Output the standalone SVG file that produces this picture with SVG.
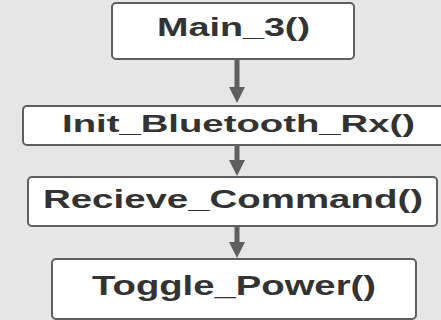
<svg xmlns="http://www.w3.org/2000/svg" width="441" height="320" viewBox="0 0 441 320">
<style>
.bx{fill:#ffffff;stroke:#5f5f5f;stroke-width:2}
.t{font-family:"Liberation Sans",Arial,sans-serif;font-weight:bold;fill:#333333}
.ln{stroke:#5f5f5f;stroke-width:5;fill:none}
.hd{fill:#5f5f5f}
</style>
<rect x="0" y="0" width="441" height="320" fill="#e6e6e6"/>
<g id="connectors">
<line class="ln" x1="237" y1="59" x2="237" y2="88"/>
<polygon class="hd" points="229,87 245,87 237,103"/>
<line class="ln" x1="237" y1="145" x2="237" y2="161"/>
<polygon class="hd" points="229,160 245,160 237,176"/>
<line class="ln" x1="237" y1="226" x2="237" y2="243"/>
<polygon class="hd" points="229,242 245,242 237,258"/>
</g>
<g id="main3">
<rect class="bx" x="112" y="3" width="242" height="56" rx="4"/>
<text class="t" x="157" y="36" font-size="25" textLength="153" lengthAdjust="spacingAndGlyphs">Main_3()</text>
</g>
<g id="initBluetooth">
<rect class="bx" x="23" y="106" width="430" height="39" rx="4"/>
<text class="t" x="62" y="132" font-size="24" textLength="353" lengthAdjust="spacingAndGlyphs">Init_Bluetooth_Rx()</text>
</g>
<g id="recieveCommand">
<rect class="bx" x="28" y="177" width="409" height="49" rx="4"/>
<text class="t" x="43" y="208" font-size="26" textLength="380" lengthAdjust="spacingAndGlyphs">Recieve_Command()</text>
</g>
<g id="togglePower">
<rect class="bx" x="52" y="259" width="364" height="60" rx="4"/>
<text class="t" x="92" y="295" font-size="27" textLength="284" lengthAdjust="spacingAndGlyphs">Toggle_Power()</text>
</g>
</svg>
